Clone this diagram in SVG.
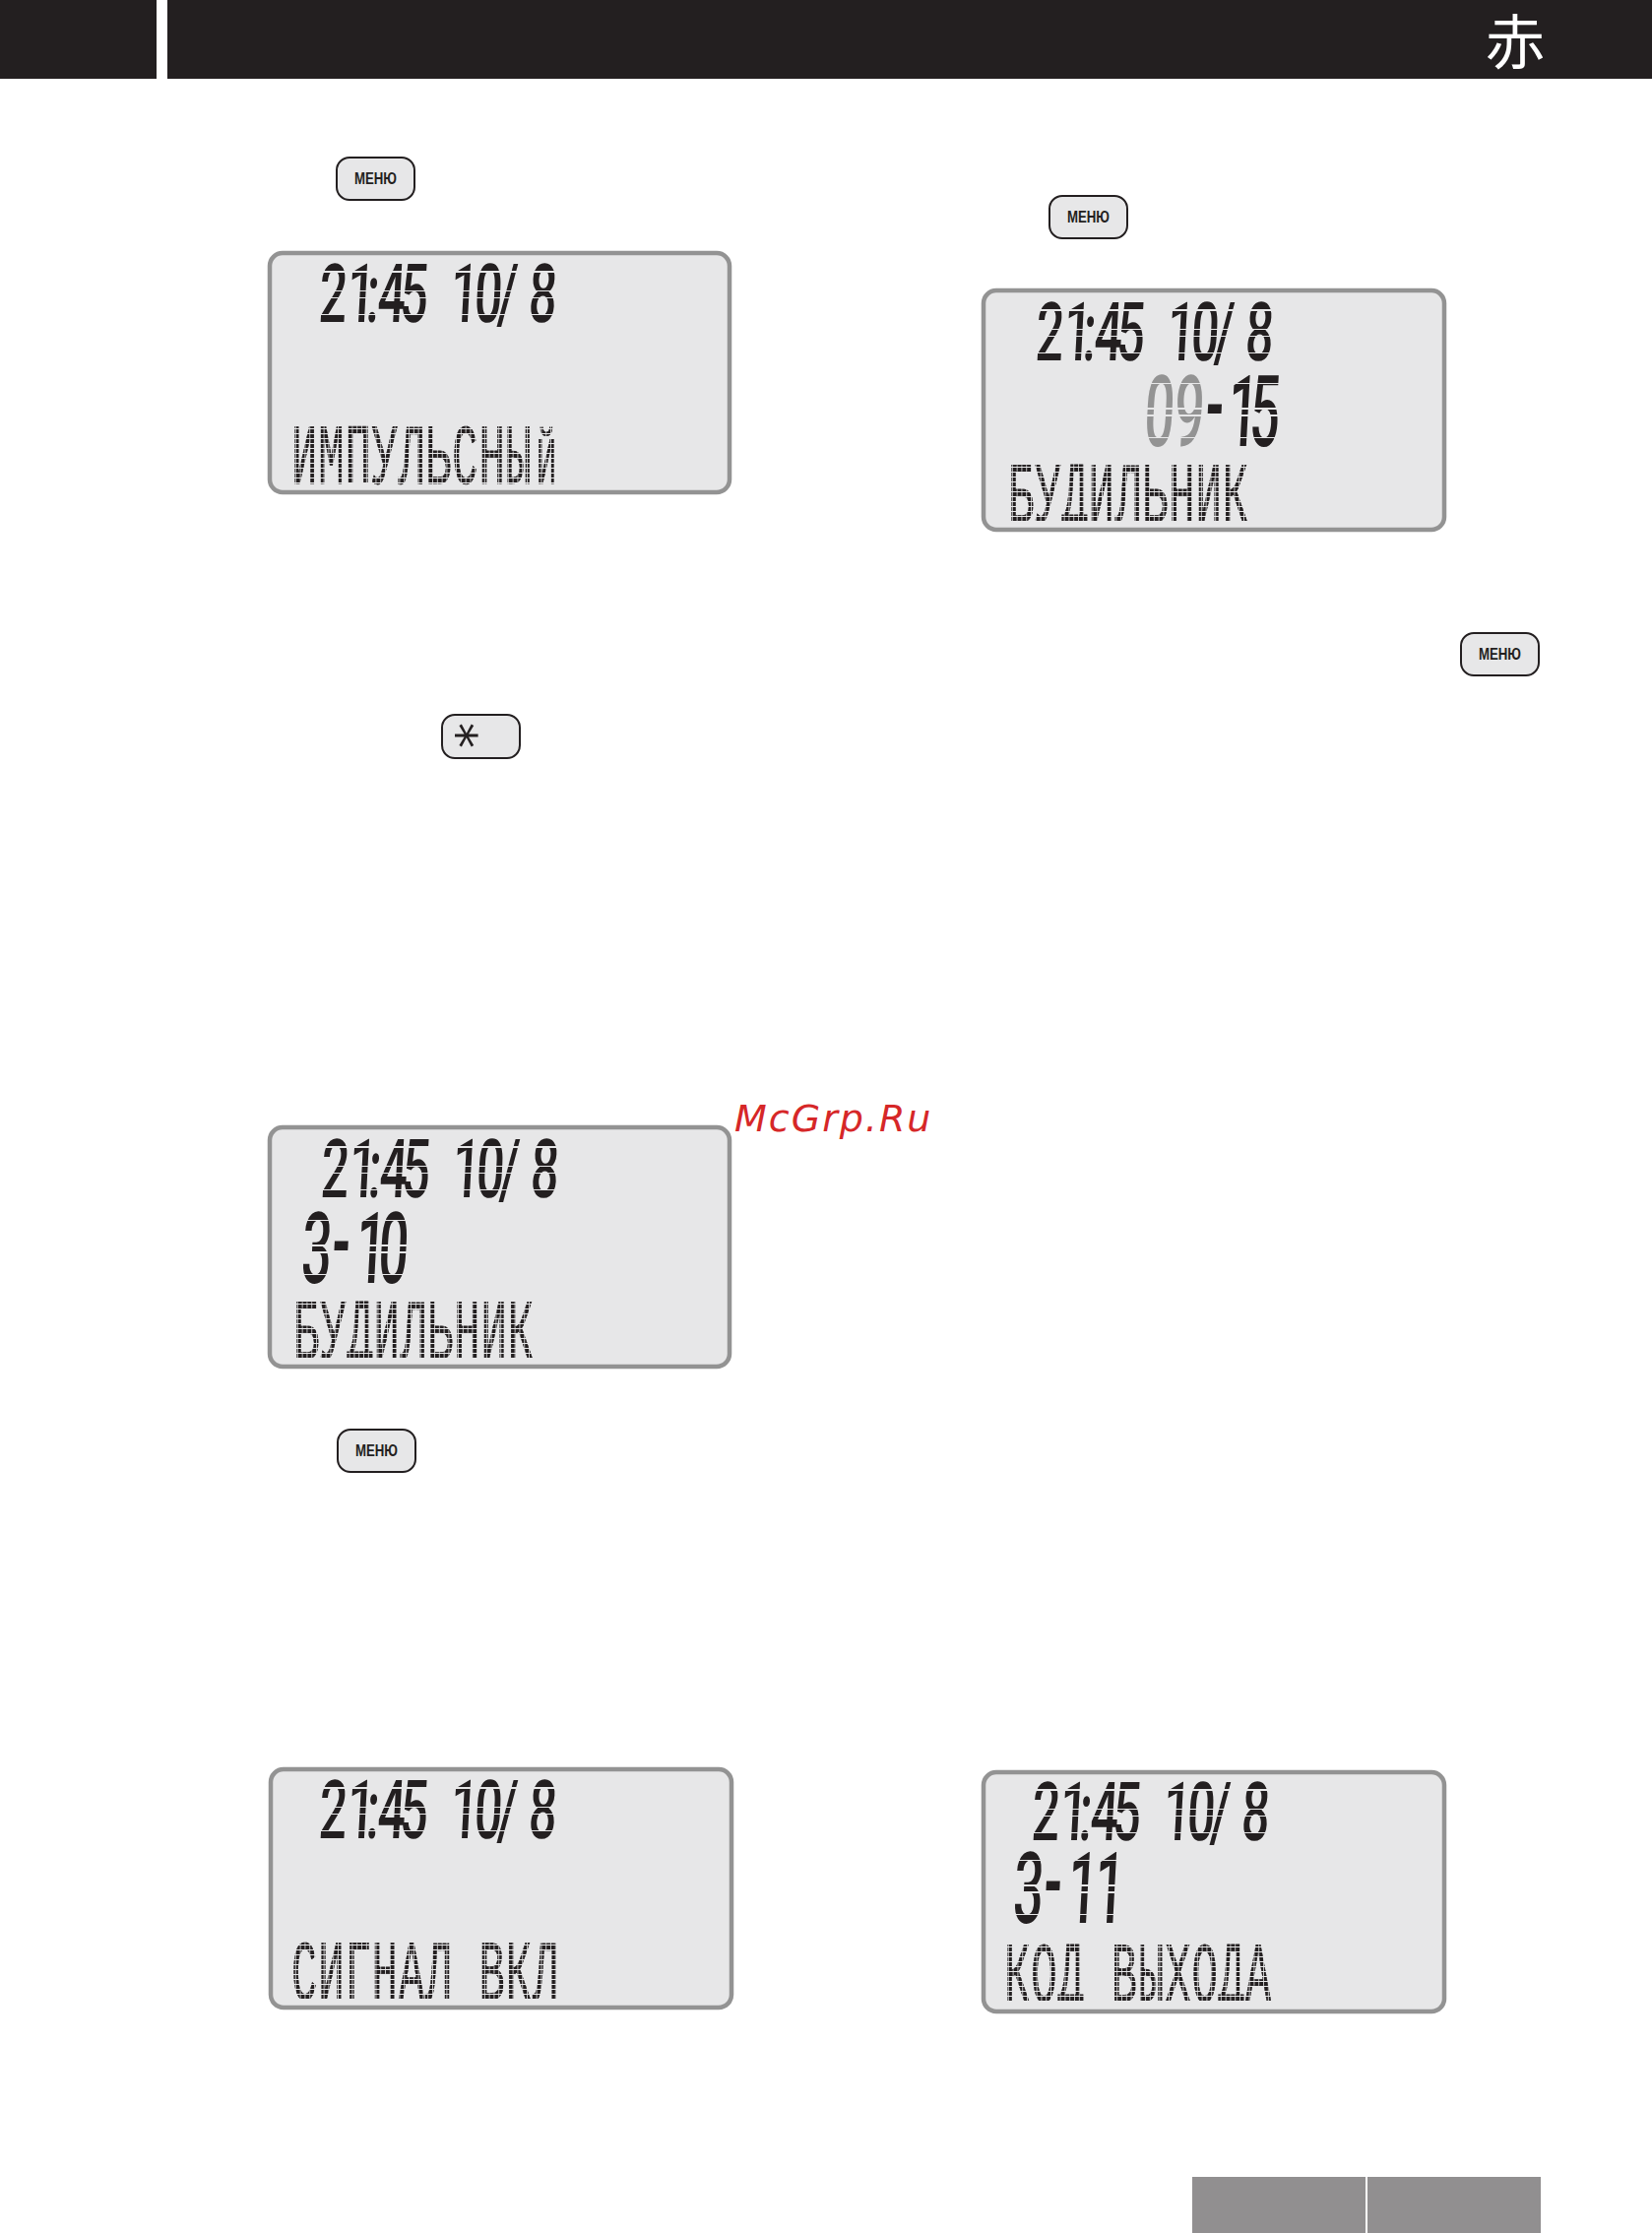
<svg xmlns="http://www.w3.org/2000/svg" width="1678" height="2268" viewBox="0 0 1678 2268">
<style>
.bar{fill:#231f20}
.lcd{fill:#e7e7e8;stroke:#939393;stroke-width:4.5}
.btn{fill:#e7e7e8;stroke:#231f20;stroke-width:2}
.dig{font-family:Roboto,"Liberation Sans",sans-serif;font-weight:500}
.top{font-size:83px;fill:url(#segTop)}
.mid{font-size:101px;fill:url(#segMid)}
.gray{fill:url(#segGray)}
.dash{fill:#231f20}
.mx{font-family:"Liberation Mono",monospace;font-size:88px;letter-spacing:1.6px;fill:url(#dots);stroke:url(#dots);stroke-width:.8}
.lab{font-family:"Liberation Sans",Arial,sans-serif;font-weight:700;font-size:16px;fill:#231f20}
</style>
<defs>
<pattern id="dots" patternUnits="userSpaceOnUse" width="9.6" height="5">
<rect x="0" y="0" width="8" height="4" fill="#231f20"/>
</pattern>
<linearGradient id="segTop" gradientUnits="userSpaceOnUse" x1="0" y1="-59" x2="0" y2="0">
<stop offset="0" stop-color="#231f20"/><stop offset=".125" stop-color="#231f20"/><stop offset=".125" stop-color="#e7e7e8"/><stop offset=".145" stop-color="#e7e7e8"/><stop offset=".145" stop-color="#231f20"/>
<stop offset=".455" stop-color="#231f20"/><stop offset=".455" stop-color="#e7e7e8"/><stop offset=".475" stop-color="#e7e7e8"/><stop offset=".475" stop-color="#231f20"/>
<stop offset=".57" stop-color="#231f20"/><stop offset=".57" stop-color="#e7e7e8"/><stop offset=".59" stop-color="#e7e7e8"/><stop offset=".59" stop-color="#231f20"/>
<stop offset=".865" stop-color="#231f20"/><stop offset=".865" stop-color="#e7e7e8"/><stop offset=".885" stop-color="#e7e7e8"/><stop offset=".885" stop-color="#231f20"/>
</linearGradient>
<linearGradient id="segMid" gradientUnits="userSpaceOnUse" x1="0" y1="-72" x2="0" y2="0">
<stop offset="0" stop-color="#231f20"/><stop offset=".11" stop-color="#231f20"/><stop offset=".11" stop-color="#e7e7e8"/><stop offset=".13" stop-color="#e7e7e8"/><stop offset=".13" stop-color="#231f20"/>
<stop offset=".46" stop-color="#231f20"/><stop offset=".46" stop-color="#e7e7e8"/><stop offset=".48" stop-color="#e7e7e8"/><stop offset=".48" stop-color="#231f20"/>
<stop offset=".56" stop-color="#231f20"/><stop offset=".56" stop-color="#e7e7e8"/><stop offset=".58" stop-color="#e7e7e8"/><stop offset=".58" stop-color="#231f20"/>
<stop offset=".87" stop-color="#231f20"/><stop offset=".87" stop-color="#e7e7e8"/><stop offset=".89" stop-color="#e7e7e8"/><stop offset=".89" stop-color="#231f20"/>
</linearGradient>
<linearGradient id="segGray" gradientUnits="userSpaceOnUse" x1="0" y1="-72" x2="0" y2="0">
<stop offset="0" stop-color="#939393"/><stop offset=".11" stop-color="#939393"/><stop offset=".11" stop-color="#e7e7e8"/><stop offset=".13" stop-color="#e7e7e8"/><stop offset=".13" stop-color="#939393"/>
<stop offset=".46" stop-color="#939393"/><stop offset=".46" stop-color="#e7e7e8"/><stop offset=".48" stop-color="#e7e7e8"/><stop offset=".48" stop-color="#939393"/>
<stop offset=".56" stop-color="#939393"/><stop offset=".56" stop-color="#e7e7e8"/><stop offset=".58" stop-color="#e7e7e8"/><stop offset=".58" stop-color="#939393"/>
<stop offset=".87" stop-color="#939393"/><stop offset=".87" stop-color="#e7e7e8"/><stop offset=".89" stop-color="#e7e7e8"/><stop offset=".89" stop-color="#939393"/>
</linearGradient>
<clipPath id="mxClip"><rect x="-4" y="-60" width="300" height="60"/></clipPath>
</defs>
<rect width="1678" height="2268" fill="#fff"/>
<g id="header">
<rect class="bar" x="0" y="0" width="159" height="80"/>
<rect class="bar" x="170" y="0" width="1508" height="80"/>
<text x="1539" y="65" font-size="60" text-anchor="middle" fill="#fff" font-family="'Liberation Sans','Noto Sans CJK JP',sans-serif">赤</text>
</g>

<g id="btn-menu-1"><rect class="btn" x="342" y="160" width="79" height="43" rx="13"/><text class="lab" x="360" y="187" textLength="43" lengthAdjust="spacingAndGlyphs">МЕНЮ</text></g>
<g id="btn-menu-2"><rect class="btn" x="1066" y="199" width="79" height="43" rx="13"/><text class="lab" x="1084" y="226" textLength="43" lengthAdjust="spacingAndGlyphs">МЕНЮ</text></g>
<g id="btn-menu-3"><rect class="btn" x="1484" y="643" width="79" height="43" rx="13"/><text class="lab" x="1502" y="670" textLength="43" lengthAdjust="spacingAndGlyphs">МЕНЮ</text></g>
<g id="btn-menu-4"><rect class="btn" x="343" y="1452" width="79" height="43" rx="13"/><text class="lab" x="361" y="1479" textLength="43" lengthAdjust="spacingAndGlyphs">МЕНЮ</text></g>
<g id="btn-star"><rect class="btn" x="449" y="726" width="79" height="44" rx="13"/><text transform="translate(474,747) rotate(90)" y="27" text-anchor="middle" font-size="52" fill="#231f20" font-family="'DejaVu Sans',sans-serif">*</text></g>

<g id="lcd-1" transform="translate(272,255)">
<rect class="lcd" x="2" y="2" width="467" height="243" rx="13"/>
<text class="dig top" transform="translate(51,72) skewX(-3) scale(.6,1)" x="0 47 80 99 137 190 222 263 303 330 355">21:45 10/ 8</text>
<g transform="translate(24,236)"><text class="mx" transform="scale(.5,1)">ИМПУЛЬСНЫ<tspan font-size="68" dx="8">Й</tspan></text></g>
</g>

<g id="lcd-2" transform="translate(997,293)">
<rect class="lcd" x="2" y="2" width="468" height="243" rx="13"/>
<text class="dig top" transform="translate(54,73) skewX(-3) scale(.6,1)" x="0 47 80 99 137 190 222 263 303 330 355">21:45 10/ 8</text>
<text class="dig mid" transform="translate(164,160) skewX(-3) scale(.53,1)"><tspan class="gray" x="0 57">09</tspan><tspan class="dash" x="117" y="-7">-</tspan><tspan x="160 202" y="0">15</tspan></text>
<g transform="translate(27,237)" clip-path="url(#mxClip)"><text class="mx" transform="scale(.5,1)">БУДИЛЬНИК</text></g>
</g>

<g id="lcd-3" transform="translate(272,1143)">
<rect class="lcd" x="2" y="2" width="467" height="243" rx="13"/>
<text class="dig top" transform="translate(53,73) skewX(-3) scale(.6,1)" x="0 47 80 99 137 190 222 263 303 330 355">21:45 10/ 8</text>
<text class="dig mid" transform="translate(33,160) skewX(-3) scale(.53,1)"><tspan x="0">3</tspan><tspan class="dash" x="58" y="-7">-</tspan><tspan x="104 147" y="0">10</tspan></text>
<g transform="translate(26,237)" clip-path="url(#mxClip)"><text class="mx" transform="scale(.5,1)">БУДИЛЬНИК</text></g>
</g>

<g id="lcd-4" transform="translate(273,1795)">
<rect class="lcd" x="2" y="2" width="468" height="242" rx="13"/>
<text class="dig top" transform="translate(50,72) skewX(-3) scale(.6,1)" x="0 47 80 99 137 190 222 263 303 330 355">21:45 10/ 8</text>
<g transform="translate(23,236)" clip-path="url(#mxClip)"><text class="mx" transform="scale(.5,1)">СИГНАЛ ВКЛ</text></g>
</g>

<g id="lcd-5" transform="translate(997,1798)">
<rect class="lcd" x="2" y="2" width="468" height="243" rx="13"/>
<text class="dig top" transform="translate(50,71) skewX(-3) scale(.6,1)" x="0 47 80 99 137 190 222 263 303 330 355">21:45 10/ 8</text>
<text class="dig mid" transform="translate(31,155) skewX(-3) scale(.53,1)"><tspan x="0">3</tspan><tspan class="dash" x="58" y="-7">-</tspan><tspan x="104 155" y="0">11</tspan></text>
<g transform="translate(23,235)" clip-path="url(#mxClip)"><text class="mx" transform="scale(.5,1)">КОД ВЫХОДА</text></g>
</g>

<g id="footer">
<rect x="1211" y="2211" width="176" height="57" fill="#918f90"/>
<rect x="1389" y="2211" width="176" height="57" fill="#918f90"/>
</g>
<text id="watermark" x="746" y="1149" font-size="38" font-style="italic" letter-spacing="2" fill="#d62728" font-family="'DejaVu Sans',sans-serif">McGrp.Ru</text>
</svg>
